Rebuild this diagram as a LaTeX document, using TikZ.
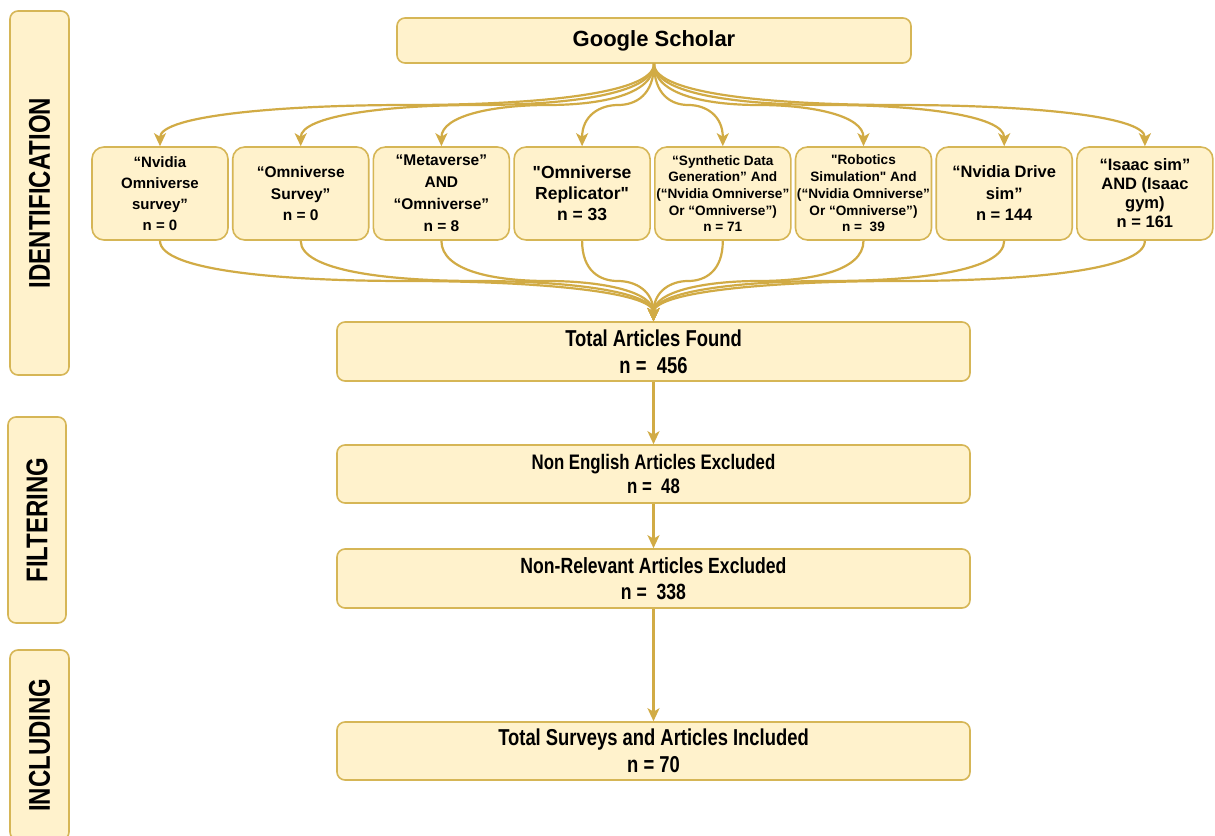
\documentclass[tikz,border=0pt]{standalone}
\usepackage{fontspec}
\setmainfont{Liberation Sans}[Ligatures=TeXOff]
\newfontfamily\narrowfont{Liberation Sans}[FakeStretch=0.8,Ligatures=TeXOff]
\usetikzlibrary{arrows.meta,calc}
\definecolor{boxfill}{HTML}{FFF2CC}
\definecolor{boxline}{HTML}{D6B656}
\definecolor{arrcol}{HTML}{D1AB45}
\tikzset{
  box/.style={draw=boxline, fill=boxfill, line width=1.6pt, rounded corners=8pt, inner sep=0pt, align=center, text=black},
  qbox/.style={box, rounded corners=12pt, minimum width=136pt, minimum height=93pt},
  mainbox/.style={box, minimum width=633pt},
  stagebox/.style={box, rotate=90, minimum height=59pt, font=\narrowfont\bfseries\fontsize{30}{32}\selectfont},
  arr/.style={draw=arrcol, line width=2.2pt, -{Stealth[length=13pt,width=12pt,inset=3.5pt]}},
}
\begin{document}
\begin{tikzpicture}[x=1pt,y=-1pt]
\clip (0,0) rectangle (1215,835);
\fill[white] (0,0) rectangle (1215,835);

% stage labels
\node[stagebox, minimum width=364pt] (s1) at (39.5,193) {IDENTIFICATION};
\node[stagebox, minimum width=206pt, minimum height=58pt] (s2) at (37,520) {FILTERING};
\node[stagebox, minimum width=190pt] (s3) at (39.5,745) {INCLUDING};

% top box
\node[box, minimum width=514pt, minimum height=45pt, font=\bfseries\fontsize{22}{24}\selectfont] (G) at (654,40.5) {Google Scholar};

% query boxes
\node[qbox, font=\bfseries\fontsize{15}{21}\selectfont] (q1) at (160.0,193.5) {“Nvidia\\Omniverse\\survey”\\n = 0};
\node[qbox, font=\bfseries\fontsize{15.5}{21.5}\selectfont] (q2) at (300.7,193.5) {“Omniverse\\Survey”\\n = 0};
\node[qbox, font=\bfseries\fontsize{15.5}{22}\selectfont] (q3) at (441.4,193.5) {“Metaverse”\\AND\\“Omniverse”\\n = 8};
\node[qbox, font=\bfseries\fontsize{17.5}{21}\selectfont] (q4) at (582.1,193.5) {"Omniverse\\Replicator"\\n = 33};
\node[qbox, font=\bfseries\fontsize{13.6}{16.7}\selectfont] (q5) at (722.8,193.5) {“Synthetic Data\\Generation” And\\(“Nvidia Omniverse”\\Or “Omniverse”)\\n = 71};
\node[qbox, font=\bfseries\fontsize{13.6}{16.7}\selectfont] (q6) at (863.5,193.5) {"Robotics\\Simulation" And\\(“Nvidia Omniverse”\\Or “Omniverse”)\\n =\ \ 39};
\node[qbox, font=\bfseries\fontsize{16.5}{21.5}\selectfont] (q7) at (1004.2,193.5) {“Nvidia Drive\\sim”\\n = 144};
\node[qbox, font=\bfseries\fontsize{16.5}{19}\selectfont] (q8) at (1144.9,193.5) {“Isaac sim”\\AND (Isaac\\gym)\\n = 161};

% main flow boxes
\node[mainbox, minimum height=59pt, font=\narrowfont\bfseries\fontsize{23}{27}\selectfont] (Tot) at (653.5,351.5) {Total Articles Found\\n =\ \ 456};
\node[mainbox, minimum height=58pt, font=\narrowfont\bfseries\fontsize{21}{24}\selectfont] (NE) at (653.5,474) {Non English Articles Excluded\\n =\ \ 48};
\node[mainbox, minimum height=59pt, font=\narrowfont\bfseries\fontsize{22}{26}\selectfont] (NR) at (653.5,578.5) {Non-Relevant Articles Excluded\\n =\ \ 338};
\node[mainbox, minimum height=58pt, font=\narrowfont\bfseries\fontsize{23}{27}\selectfont] (TS) at (653.5,751) {Total Surveys and Articles Included\\n = 70};

% fan out
\foreach \i in {1,...,8}{
  \coordinate (tm\i) at ($(G.south)!0.5!(q\i.north)$);
  \draw[arr] (G.south) .. controls ($(G.south)!0.75!(G.south|-tm\i)$) and ($(tm\i)!0.5!(G.south|-tm\i)$) .. (tm\i)
    .. controls ($(tm\i)!0.5!(q\i.north|-tm\i)$) and ($(q\i.north)!0.75!(q\i.north|-tm\i)$) .. (q\i.north);
}
% fan in
\foreach \i in {1,...,8}{
  \coordinate (bm\i) at ($(q\i.south)!0.5!(Tot.north)$);
  \draw[arr] (q\i.south) .. controls ($(q\i.south)!0.75!(q\i.south|-bm\i)$) and ($(bm\i)!0.5!(q\i.south|-bm\i)$) .. (bm\i)
    .. controls ($(bm\i)!0.5!(Tot.north|-bm\i)$) and ($(Tot.north)!0.75!(Tot.north|-bm\i)$) .. (Tot.north);
}

% vertical arrows
\draw[arr] (Tot.south) -- (NE.north);
\draw[arr] (NE.south) -- (NR.north);
\draw[arr] (NR.south) -- (TS.north);
\end{tikzpicture}
\end{document}
